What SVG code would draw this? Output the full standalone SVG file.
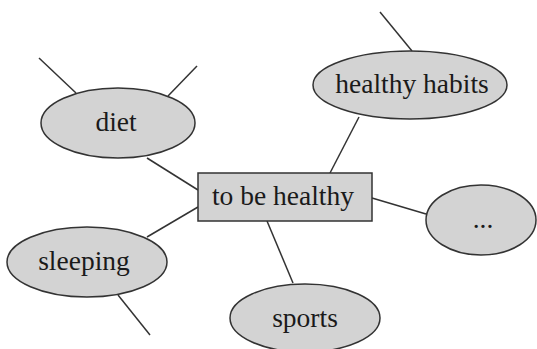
<svg xmlns="http://www.w3.org/2000/svg" width="537" height="349" viewBox="0 0 537 349">
<style>
.n{fill:#d3d3d3;stroke:#333;stroke-width:1.5}
.t{font-family:"Liberation Serif","Times New Roman",serif;font-size:27.5px;fill:#1a1a1a;text-anchor:middle}
.c line{stroke:#333;stroke-width:1.5}
</style>
<rect width="537" height="349" fill="#fff"/>
<g class="c" id="connectors">
<line x1="39" y1="58" x2="76" y2="93"/>
<line x1="197" y1="66" x2="168" y2="96"/>
<line x1="147" y1="158" x2="198" y2="190"/>
<line x1="380" y1="12" x2="412" y2="51"/>
<line x1="359" y1="117" x2="330" y2="173"/>
<line x1="372" y1="198" x2="426" y2="214"/>
<line x1="267" y1="221" x2="293" y2="283"/>
<line x1="147" y1="237" x2="198" y2="207"/>
<line x1="118" y1="295" x2="150" y2="335"/>
</g>
<g id="center"><rect class="n" x="198" y="173" width="174" height="48"/><text class="t" x="283" y="205">to be healthy</text></g>
<g id="diet"><ellipse class="n" cx="118" cy="123" rx="77" ry="35"/><text class="t" x="116" y="131">diet</text></g>
<g id="habits"><ellipse class="n" cx="410" cy="85" rx="97" ry="34"/><text class="t" x="412" y="93">healthy habits</text></g>
<g id="more"><ellipse class="n" cx="481" cy="220" rx="55" ry="35"/><text class="t" x="483" y="228">...</text></g>
<g id="sports"><ellipse class="n" cx="305" cy="318" rx="75" ry="34"/><text class="t" x="305" y="327">sports</text></g>
<g id="sleeping"><ellipse class="n" cx="87" cy="262" rx="80" ry="35"/><text class="t" x="84" y="270">sleeping</text></g>
</svg>
